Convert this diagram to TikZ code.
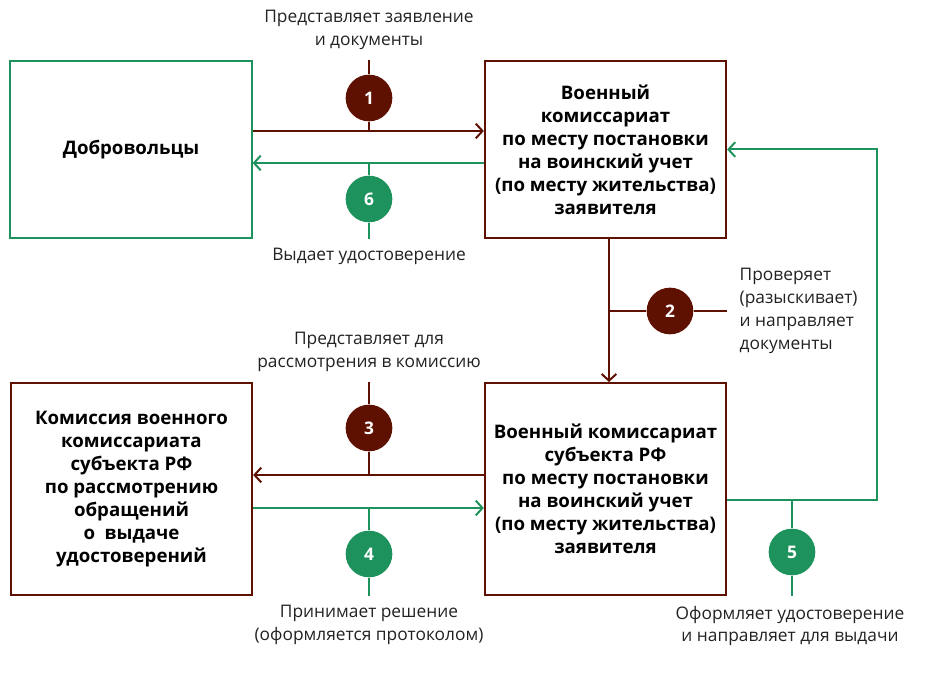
\documentclass[tikz,border=0pt]{standalone}
\usepackage{fontspec}
\setmainfont{Open Sans}
\usetikzlibrary{arrows.meta,positioning,calc}
\definecolor{vkbrown}{RGB}{94,17,0}
\definecolor{vkgreen}{RGB}{30,146,92}
\definecolor{labelgrey}{RGB}{34,34,34}

\begin{document}
\begin{tikzpicture}[x=0.75pt, y=-0.75pt,
    box/.style={rectangle, draw=vkbrown, line width=1.5pt, fill=white,
        minimum width=181pt, align=center, inner sep=2pt,
        font=\fontsize{14}{17.2}\selectfont\bfseries},
    num/.style={circle, minimum size=35pt, inner sep=0pt, text=white,
        font=\fontsize{13}{15}\selectfont\bfseries},
    lbl/.style={align=center, text=labelgrey, font=\fontsize{13}{17.2}\selectfont},
    arrb/.style={-{Straight Barb[length=5pt,width=11pt]}, line width=1.5pt, vkbrown},
    arrg/.style={-{Straight Barb[length=5pt,width=11pt]}, line width=1.5pt, vkgreen},
    tick/.style={line width=0.8pt}
]
    \useasboundingbox (0,0) rectangle (943,680);

    % Boxes
    \node[box, draw=vkgreen, minimum height=133pt] (vol) at (131,149.5) {Добровольцы};
    \node[box, minimum height=133pt] (vk) at (605.5,149.5)
        {Военный\\комиссариат\\по месту постановки\\на воинский учет\\(по месту жительства)\\заявителя};
    \node[box, minimum height=159pt] (kom) at (131.5,489)
        {Комиссия военного\\комиссариата\\субъекта РФ\\по рассмотрению\\обращений\\о~~выдаче\\удостоверений};
    \node[box, minimum height=159pt] (vks) at (605.5,489)
        {Военный комиссариат\\субъекта РФ\\по месту постановки\\на воинский учет\\(по месту жительства)\\заявителя};

    % Step markers
    \node[num, fill=vkbrown] (c1) at (369,98) {1};
    \node[num, fill=vkgreen] (c6) at (369,199) {6};
    \node[num, fill=vkbrown] (c2) at (670,311) {2};
    \node[num, fill=vkbrown] (c3) at (369,428) {3};
    \node[num, fill=vkgreen] (c4) at (369,554) {4};
    \node[num, fill=vkgreen] (c5) at (792,552) {5};
    \coordinate (turn) at (877,500);
    \coordinate (down) at (609,311);

    % Ticks
    \draw[tick, vkbrown] (c1 |- vk.north) -- (c1.north);
    \draw[tick, vkbrown] (c1.south) -- (369,131);
    \draw[tick, vkgreen] (369,163) -- (c6.north);
    \draw[tick, vkgreen] (c6.south) -- (c6 |- vk.south);
    \draw[tick, vkbrown] (down) -- (c2.west);
    \draw[tick, vkbrown] (c2.east) -- (c2 -| vk.east);
    \draw[tick, vkbrown] (c3 |- vks.north) -- (c3.north);
    \draw[tick, vkbrown] (c3.south) -- (369,475);
    \draw[tick, vkgreen] (369,508) -- (c4.north);
    \draw[tick, vkgreen] (c4.south) -- (c4 |- vks.south);
    \draw[tick, vkgreen] (792,500) -- (c5.north);
    \draw[tick, vkgreen] (c5.south) -- (c5 |- vks.south);

    % Connectors
    \draw[arrb] (vol.east |- 0,131) -- (vk.west |- 0,131);
    \draw[arrg] (vk.west |- 0,163) -- (vol.east |- 0,163);
    \draw[arrb] (vk.south -| down) -- (vks.north -| down);
    \draw[arrb] (vks.west |- 0,475) -- (kom.east |- 0,475);
    \draw[arrg] (kom.east |- 0,508) -- (vks.west |- 0,508);
    \draw[arrg] (vks.east |- turn) -- (turn) |- (vk.east);

    % Labels
    \node[lbl] (l1) at (369,30) {Представляет заявление\\и документы};
    \node[lbl] (l6) at (369,256) {Выдает удостоверение};
    \node[lbl, align=left, anchor=west] (l2) at (735,311) {Проверяет\\(разыскивает)\\и направляет\\документы};
    \node[lbl] (l3) at (369,352) {Представляет для\\рассмотрения в комиссию};
    \node[lbl] (l4) at (369,625) {Принимает решение\\(оформляется протоколом)};
    \node[lbl] (l5) at (790,626) {Оформляет удостоверение\\и направляет для выдачи};
\end{tikzpicture}
\end{document}
